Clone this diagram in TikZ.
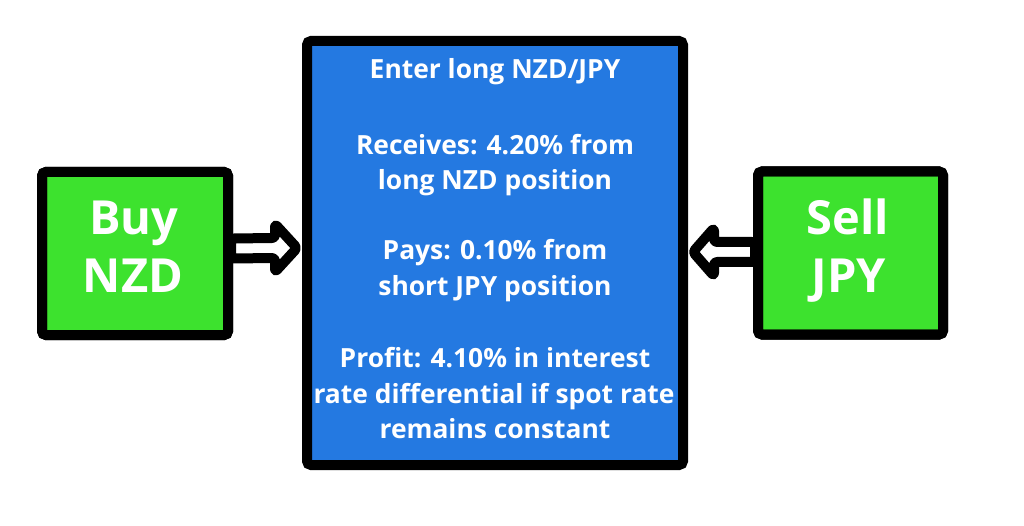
\documentclass[tikz,border=0pt]{standalone}
\usepackage{fontspec}
\setmainfont{Open Sans}
\usetikzlibrary{calc}
\definecolor{boxgreen}{RGB}{61,226,46}
\definecolor{boxblue}{RGB}{36,121,225}
\tikzset{
  sidebox/.style={draw=black, fill=boxgreen, line width=10pt, rounded corners=4pt,
    minimum width=186pt, minimum height=163pt, inner sep=0pt},
  midbox/.style={draw=black, fill=boxblue, line width=10pt, rounded corners=4pt,
    minimum width=376pt, minimum height=424pt, inner sep=0pt},
  bigtxt/.style={text=white, font=\fontsize{47}{57}\selectfont\bfseries, anchor=base, inner sep=0pt},
  midtxt/.style={text=white, font=\fontsize{26.4}{35}\selectfont\bfseries, anchor=base, inner sep=0pt},
  hollowarrow/.style={draw=black, fill=white, line width=10pt, line join=round, rounded corners=3pt},
}
\begin{document}
\begin{tikzpicture}[x=1pt,y=-1pt]
\useasboundingbox[fill=white] (0,0) rectangle (1024,526);
% boxes
\node[sidebox] (buy) at (135,253.5) {};
\node[sidebox, minimum width=185pt] (sell) at (850.5,253) {};
\node[midbox] (mid) at (495,253) {};
% arrows
\coordinate (la) at ($(buy.east)+(-2,-5)$);
\coordinate (lb) at ($(mid.west)+(0,-5)$);
\draw[hollowarrow] ($(la)+(0,-10)$) -- ($(lb)+(-27,-10)$) -- ($(lb)+(-27,-24)$) -- ($(lb)+(-5,0)$)
  -- ($(lb)+(-27,24)$) -- ($(lb)+(-27,10)$) -- ($(la)+(0,10)$) -- cycle;
\coordinate (ra) at ($(sell.west)+(2,-1)$);
\coordinate (rb) at ($(mid.east)+(0,-1)$);
\draw[hollowarrow] ($(ra)+(0,-10)$) -- ($(rb)+(26,-10)$) -- ($(rb)+(26,-24)$) -- ($(rb)+(5,0)$)
  -- ($(rb)+(26,24)$) -- ($(rb)+(26,10)$) -- ($(ra)+(0,10)$) -- cycle;
% redraw side box borders over arrow ends
\draw[black, line width=10pt, rounded corners=4pt] (buy.north west) ++(5,5) rectangle ($(buy.south east)+(-5,-5)$);
\draw[black, line width=10pt, rounded corners=4pt] (sell.north west) ++(5,5) rectangle ($(sell.south east)+(-5,-5)$);
% side texts
\node[bigtxt] (buy1) at (134,235) {Buy};
\node[bigtxt] (buy2) at (133,292) {NZD};
\node[bigtxt] (sell1) at (848,235) {Sell};
\node[bigtxt] (sell2) at (849,292) {JPY};
% middle texts
\node[midtxt] (t1) at (495,79) {Enter long NZD/JPY};
\node[midtxt] (t2) at (495,155) {Receives: 4.20\% from};
\node[midtxt] (t3) at (495,190) {long NZD position};
\node[midtxt] (t4) at (495,260) {Pays: 0.10\% from};
\node[midtxt] (t5) at (495,295) {short JPY position};
\node[midtxt] (t6) at (495,367) {Profit: 4.10\% in interest};
\node[midtxt] (t7) at (494,403) {rate differential if spot rate};
\node[midtxt] (t8) at (495,438) {remains constant};
\end{tikzpicture}
\end{document}
